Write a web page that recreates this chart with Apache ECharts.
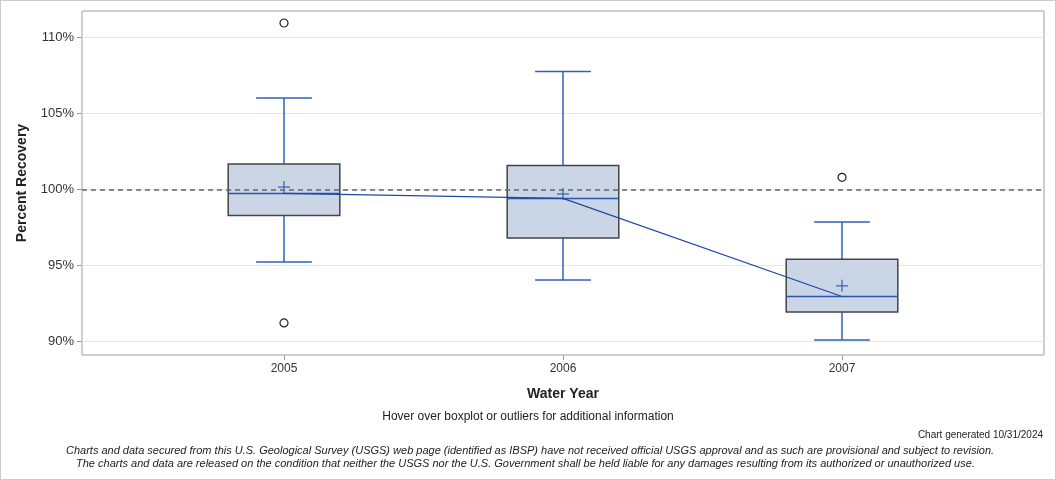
<!DOCTYPE html>
<html>
<head>
<meta charset="utf-8">
<script src="https://cdn.jsdelivr.net/npm/echarts@6/dist/echarts.min.js"></script>
<style>
  html, body { margin: 0; padding: 0; background: #fff; }
  #chart { width: 1056px; height: 480px; box-sizing: border-box; border: 1px solid #ccc; }
</style>
</head>
<body>
<div id="chart"></div>
<script>
// values
var years = [2005, 2006, 2007];
var whiskerLow = [95.23, 94.05, 90.10];
var q1 = [98.29, 96.81, 91.94];
var median = [99.74, 99.41, 92.96];
var q3 = [101.68, 101.58, 95.41];
var whiskerHigh = [106.02, 107.76, 97.86];
var means = [100.16, 99.70, 93.66];
var outliers = [[2005, 110.95], [2005, 91.22], [2007, 100.80]];
var yTicks = [90, 95, 100, 105, 110];

var blue = "#3060b8";
var font = "Liberation Sans, Arial, sans-serif";
var chart = echarts.init(document.getElementById("chart"));

var boxData = years.map(function (y, i) {
    return [y, whiskerLow[i], q1[i], median[i], q3[i], whiskerHigh[i], means[i]];
});

function renderBox(params, api) {
    var x = api.value(0);
    var pLow = api.coord([x, api.value(1)]);
    var pQ1 = api.coord([x, api.value(2)]);
    var pMed = api.coord([x, api.value(3)]);
    var pQ3 = api.coord([x, api.value(4)]);
    var pHigh = api.coord([x, api.value(5)]);
    var pMean = api.coord([x, api.value(6)]);
    var halfBox = api.size([0.2, 0])[0];
    var halfCap = api.size([0.1, 0])[0];
    var cx = pMed[0];
    var wStyle = { stroke: blue, lineWidth: 1.5 };
    return {
        type: "group",
        children: [
            { type: "line", shape: { x1: cx, y1: pQ3[1], x2: cx, y2: pHigh[1] }, style: wStyle },
            { type: "line", shape: { x1: cx - halfCap, y1: pHigh[1], x2: cx + halfCap, y2: pHigh[1] }, style: wStyle },
            { type: "line", shape: { x1: cx, y1: pQ1[1], x2: cx, y2: pLow[1] }, style: wStyle },
            { type: "line", shape: { x1: cx - halfCap, y1: pLow[1], x2: cx + halfCap, y2: pLow[1] }, style: wStyle },
            {
                type: "rect",
                shape: { x: cx - halfBox, y: pQ3[1], width: halfBox * 2, height: pQ1[1] - pQ3[1] },
                style: { fill: "#cad5e6", stroke: "#444", lineWidth: 1.5 }
            },
            { type: "line", shape: { x1: cx - halfBox, y1: pMed[1], x2: cx + halfBox, y2: pMed[1] }, style: { stroke: "#2a56b0", lineWidth: 1.5 } },
            { type: "line", shape: { x1: cx - 6, y1: pMean[1], x2: cx + 6, y2: pMean[1] }, style: { stroke: blue, lineWidth: 1.2 } },
            { type: "line", shape: { x1: cx, y1: pMean[1] - 6, x2: cx, y2: pMean[1] + 6 }, style: { stroke: blue, lineWidth: 1.2 } }
        ]
    };
}

var option = {
    animation: false,
    textStyle: { fontFamily: font },
    grid: { left: 81, right: 11, top: 10, bottom: 124, show: true, borderColor: "#a0a0a0", borderWidth: 1 },
    xAxis: {
        type: "value",
        min: 2004.276,
        max: 2007.724,
        name: "Water Year",
        nameLocation: "middle",
        nameGap: 32,
        nameTextStyle: { fontSize: 14, fontWeight: "bold", color: "#222" },
        axisLine: { show: false },
        axisTick: { show: true, length: 5, lineStyle: { color: "#999" }, customValues: years },
        axisLabel: { fontSize: 12, color: "#333", margin: 8, customValues: years, formatter: function (v) { return String(v); } },
        splitLine: { show: false }
    },
    yAxis: {
        type: "value",
        min: 89.11,
        max: 111.74,
        name: "Percent Recovery",
        nameLocation: "middle",
        nameGap: 53,
        nameTextStyle: { fontSize: 14, fontWeight: "bold", color: "#222" },
        axisLine: { show: false },
        axisTick: { show: true, length: 5, lineStyle: { color: "#999" }, customValues: yTicks },
        axisLabel: { fontSize: 13, color: "#333", margin: 8, customValues: yTicks, formatter: function (v) { return v + "%"; } },
        splitLine: { show: true, lineStyle: { color: "#e6e6e6", width: 1 } }
    },
    series: [
        {
            type: "line",
            data: [],
            symbol: "none",
            z: 1,
            markLine: {
                silent: true,
                symbol: "none",
                label: { show: false },
                lineStyle: { color: "#666", type: [5, 4], width: 1.5 },
                data: [{ yAxis: 100 }]
            }
        },
        {
            type: "custom",
            renderItem: renderBox,
            data: boxData,
            encode: { x: 0, y: [1, 5] },
            z: 2
        },
        {
            type: "line",
            data: years.map(function (y, i) { return [y, median[i]]; }),
            symbol: "none",
            lineStyle: { color: "#1d48a8", width: 1.2 },
            z: 3
        },
        {
            type: "scatter",
            data: outliers,
            symbol: "circle",
            symbolSize: 8,
            itemStyle: { color: "#ffffff", borderColor: "#222", borderWidth: 1.2, opacity: 1 },
            z: 4
        }
    ],
    graphic: [
        { type: "text", left: "center", top: 410, style: { text: "Hover over boxplot or outliers for additional information", fontSize: 12, fill: "#222", fontFamily: font } },
        { type: "text", right: 12, top: 429, style: { text: "Chart generated 10/31/2024", fontSize: 10, fill: "#222", fontFamily: font } },
        { type: "text", left: 65, top: 444, style: { text: "Charts and data secured from this U.S. Geological Survey (USGS) web page (identified as IBSP) have not received official USGS approval and as such are provisional and subject to revision.", fontSize: 11, fontStyle: "italic", fill: "#222", fontFamily: font } },
        { type: "text", left: 75, top: 457, style: { text: "The charts and data are released on the condition that neither the USGS nor the U.S. Government shall be held liable for any damages resulting from its authorized or unauthorized use.", fontSize: 11, fontStyle: "italic", fill: "#222", fontFamily: font } }
    ]
};

chart.setOption(option);
</script>
</body>
</html>
